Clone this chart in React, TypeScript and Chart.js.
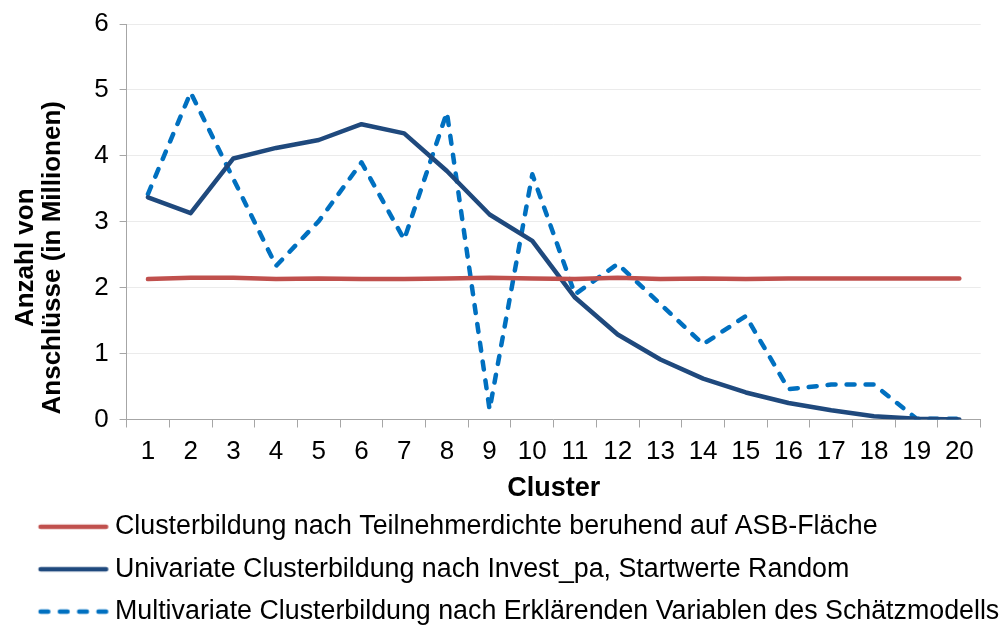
import React, { useEffect, useRef } from 'react';
import { Chart, registerables } from 'chart.js';

Chart.register(...registerables);

const clusters = ['1', '2', '3', '4', '5', '6', '7', '8', '9', '10', '11', '12', '13', '14', '15', '16', '17', '18', '19', '20'];

const seriesNames = [
  'Clusterbildung nach Teilnehmerdichte beruhend auf ASB-Fläche',
  'Univariate Clusterbildung nach Invest_pa, Startwerte Random',
  'Multivariate Clusterbildung nach Erklärenden Variablen des Schätzmodells',
];

const teilnehmerdichte = [2.13, 2.15, 2.15, 2.13, 2.14, 2.13, 2.13, 2.14, 2.15, 2.14, 2.13, 2.15, 2.13, 2.14, 2.13, 2.14, 2.14, 2.14, 2.14, 2.14];
const univariate = [3.37, 3.13, 3.96, 4.12, 4.24, 4.48, 4.34, 3.77, 3.11, 2.71, 1.85, 1.29, 0.91, 0.62, 0.41, 0.25, 0.14, 0.05, 0.01, 0.0];
const multivariate = [3.42, 4.96, 3.65, 2.33, 3.01, 3.9, 2.73, 4.66, 0.15, 3.72, 1.9, 2.36, 1.75, 1.14, 1.57, 0.46, 0.53, 0.53, 0.01, 0.01];

const yMin = 0;
const yMax = 6;
const yStep = 1;

const xTitle = 'Cluster';
const yTitle = ['Anzahl von', 'Anschlüsse (in Millionen)'];

const colors = ['#C0504D', '#1F497D', '#0070C0'];
const dashes: number[][] = [[], [], [8, 11]];

const FONT = "'Liberation Sans', Arial, sans-serif";

function legendSwatch(color: string, dashed: boolean): HTMLCanvasElement {
  const c = document.createElement('canvas');
  c.width = 80;
  c.height = 8;
  const ctx = c.getContext('2d')!;
  ctx.strokeStyle = color;
  ctx.lineWidth = 4.5;
  ctx.lineCap = 'round';
  if (dashed) ctx.setLineDash([7.7, 11.6]);
  ctx.beginPath();
  ctx.moveTo(9.95, 4);
  ctx.lineTo(75.5, 4);
  ctx.stroke();
  return c;
}

const layoutTweaks = {
  id: 'layoutTweaks',
  afterLayout(chart: any) {
    const l = chart.legend;
    if (l) {
      l.right = chart.width;
      l.width = l.right - l.left;
    }
    const ys = chart.scales.y;
    if (ys && !ys.__shifted) {
      const orig = ys.drawTitle.bind(ys);
      ys.drawTitle = (...args: any[]) => {
        const ctx = chart.ctx;
        ctx.save();
        ctx.translate(0, 36);
        orig(...args);
        ctx.restore();
      };
      ys.__shifted = true;
    }
  },
};

export default function App() {
  const ref = useRef<HTMLCanvasElement | null>(null);

  useEffect(() => {
    if (!ref.current) return;
    const swatches = colors.map((col, i) => legendSwatch(col, dashes[i].length > 0));
    const seriesData = [teilnehmerdichte, univariate, multivariate];
    const chart = new Chart(ref.current, {
      type: 'line',
      data: {
        labels: clusters,
        datasets: seriesData.map((d, i) => ({
          label: seriesNames[i],
          data: d,
          borderColor: colors[i],
          backgroundColor: colors[i],
          borderWidth: 4.5,
          borderDash: dashes[i],
          borderCapStyle: 'round',
          borderJoinStyle: 'round',
          pointRadius: 0,
          tension: 0,
        })),
      },
      plugins: [layoutTweaks],
      options: {
        responsive: false,
        animation: false,
        devicePixelRatio: 1,
        layout: { padding: { left: 24, right: 23.3, top: 23, bottom: -10 } },
        plugins: {
          tooltip: { enabled: false },
          legend: {
            position: 'bottom',
            align: 'start',
            labels: {
              usePointStyle: true,
              pointStyleWidth: 62,
              padding: 15.6,
              color: '#000',
              font: { family: FONT, size: 26.8 },
              generateLabels: (ch: any) =>
                ch.data.datasets.map((ds: any, i: number) => ({
                  text: ds.label,
                  fillStyle: colors[i],
                  strokeStyle: colors[i],
                  lineWidth: 0,
                  pointStyle: swatches[i],
                  hidden: false,
                  datasetIndex: i,
                  fontColor: '#000',
                })),
            },
          },
        },
        scales: {
          x: {
            offset: true,
            border: { color: '#A6A6A6', width: 1 },
            grid: {
              offset: true,
              drawOnChartArea: false,
              tickLength: 8,
              tickColor: '#A6A6A6',
            },
            ticks: {
              color: '#000',
              padding: 9,
              maxRotation: 0,
              autoSkip: false,
              font: { family: FONT, size: 26 },
            },
            title: {
              display: true,
              text: xTitle,
              color: '#000',
              padding: { top: -1.2, bottom: -3.7 },
              font: { family: FONT, size: 27, weight: 'bold', lineHeight: 0.963 },
            },
          },
          y: {
            min: yMin,
            max: yMax,
            border: { color: '#A6A6A6', width: 1 },
            grid: {
              color: '#EBEBEB',
              tickLength: 7,
              tickColor: '#A6A6A6',
            },
            ticks: {
              stepSize: yStep,
              color: '#000',
              padding: 11,
              font: { family: FONT, size: 26, lineHeight: 1.0 },
            },
            title: {
              display: true,
              text: yTitle,
              color: '#000',
              padding: { top: -11, bottom: 17.1 },
              font: { family: FONT, size: 26, weight: 'bold', lineHeight: 1.02 },
            },
          },
        },
      },
    });
    return () => chart.destroy();
  }, []);

  return (
    <div style={{ position: 'fixed', left: 0, top: 0, width: 1004, height: 625, background: '#fff' }}>
      <canvas ref={ref} width={1004} height={625} />
    </div>
  );
}
